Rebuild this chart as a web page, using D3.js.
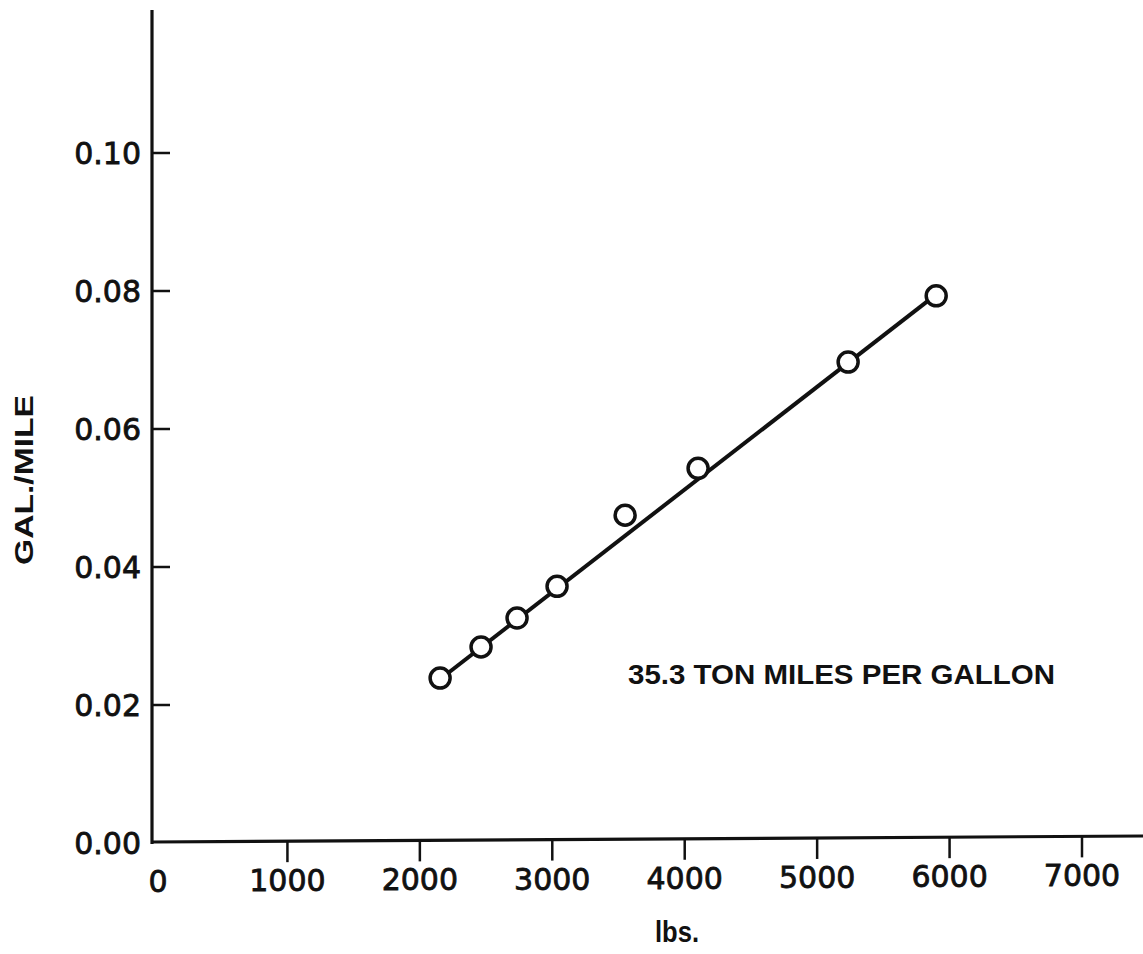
<!DOCTYPE html>
<html><head><meta charset="utf-8">
<script src="https://cdn.jsdelivr.net/npm/d3@7"></script>
<style>body{margin:0;background:#fff}svg{display:block}</style>
</head><body>
<script>
const xTicks = [0,1000,2000,3000,4000,5000,6000,7000];
const yTicks = [0.00,0.02,0.04,0.06,0.08,0.10];
const weightLbs = [2153,2462,2734,3036,3550,4101,5234,5899];
const galPerMile = [0.0239,0.0284,0.0326,0.0372,0.0475,0.0543,0.0697,0.0793];
const fitX = [2150,5900];
const fitY = [0.0237,0.0795];
const annotation = "35.3 TON MILES PER GALLON";

const W=1143,H=954;
const svg=d3.select("body").append("svg").attr("width",W).attr("height",H);
const x=d3.scaleLinear().domain([0,7000]).range([155,1082]);
const y=d3.scaleLinear().domain([0,0.10]).range([843,153]);
const ink="#111";

// axes lines
svg.append("line").attr("x1",152).attr("x2",152).attr("y1",10).attr("y2",844).attr("stroke",ink).attr("stroke-width",3.2);
svg.append("line").attr("x1",151).attr("x2",W).attr("y1",842).attr("y2",836).attr("stroke",ink).attr("stroke-width",3.2);

// y ticks (inward)
yTicks.forEach(v=>{
  if(v>0) svg.append("line").attr("x1",152).attr("x2",170).attr("y1",y(v)).attr("y2",y(v)).attr("stroke",ink).attr("stroke-width",2.5);
  svg.append("text").attr("x",141).attr("y",y(v)).attr("dy","0.36em").attr("text-anchor","end")
    .attr("font-family","DejaVu Sans").attr("font-size",30).attr("fill",ink)
    .attr("stroke",ink).attr("stroke-width",0.8).text(v.toFixed(2));
});
// x ticks (downward)
const axY = px => 842 - (px-151)/(W-151)*6;
xTicks.forEach(v=>{
  const px=x(v);
  if(v>0) svg.append("line").attr("x1",px).attr("x2",px).attr("y1",axY(px)).attr("y2",axY(px)+21).attr("stroke",ink).attr("stroke-width",2.5);
  svg.append("text").attr("x",v===0?158:px).attr("y",axY(px)+50).attr("text-anchor","middle")
    .attr("font-family","DejaVu Sans").attr("font-size",30).attr("fill",ink)
    .attr("stroke",ink).attr("stroke-width",0.8).text(v);
});

// fit line
svg.append("line").attr("x1",x(fitX[0])).attr("y1",y(fitY[0])).attr("x2",x(fitX[1])).attr("y2",y(fitY[1]))
  .attr("stroke",ink).attr("stroke-width",4);
// points
svg.selectAll("circle.p").data(weightLbs.map((w,i)=>[w,galPerMile[i]])).join("circle")
  .attr("cx",d=>x(d[0])).attr("cy",d=>y(d[1])).attr("r",10)
  .attr("fill","#fff").attr("stroke",ink).attr("stroke-width",3.5);

// annotation
svg.append("text").attr("x",628).attr("y",684).attr("font-family","Liberation Sans").attr("font-weight","bold").attr("font-size",28)
  .attr("textLength",427).attr("lengthAdjust","spacingAndGlyphs").attr("fill",ink).text(annotation);
// axis titles
svg.append("text").attr("transform","translate(33,480) rotate(-90)").attr("text-anchor","middle")
  .attr("font-family","Liberation Sans").attr("font-weight","bold").attr("font-size",26).attr("textLength",170).attr("lengthAdjust","spacingAndGlyphs")
  .attr("fill",ink).text("GAL./MILE");
svg.append("text").attr("x",655).attr("y",942).attr("font-family","Liberation Sans").attr("font-weight","bold").attr("font-size",30)
  .attr("textLength",44).attr("lengthAdjust","spacingAndGlyphs").attr("fill",ink).text("lbs.");
</script>
</body></html>
